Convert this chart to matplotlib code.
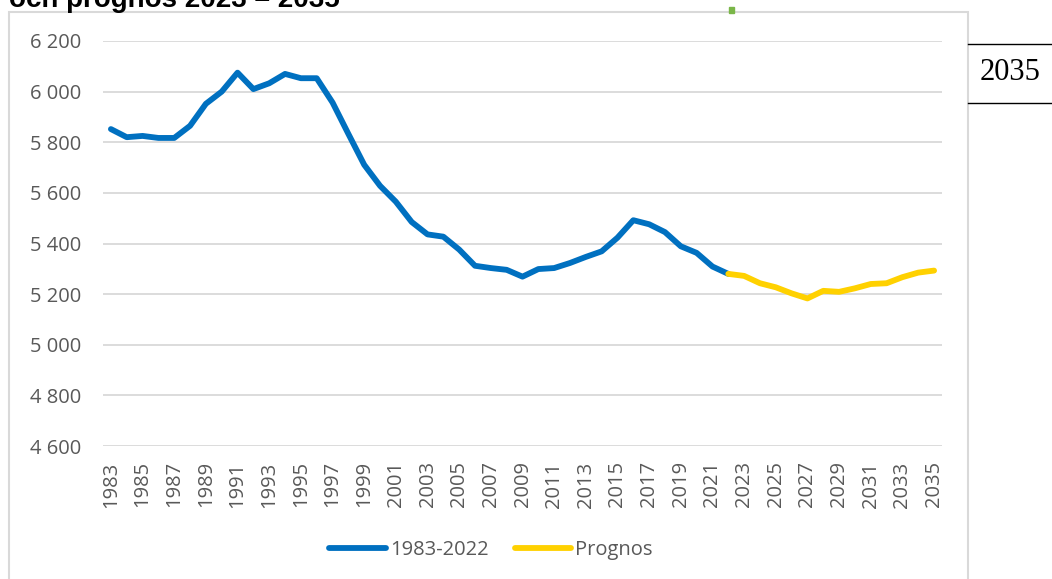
import matplotlib.pyplot as plt
from matplotlib.patches import Rectangle
from matplotlib.lines import Line2D
from matplotlib.ticker import FuncFormatter, MultipleLocator

# data
years = list(range(1983, 2036))
hist_years = list(range(1983, 2023))
historic = [5852, 5820, 5825, 5817, 5817, 5865, 5952, 6000, 6075, 6010,
            6033, 6070, 6053, 6053, 5957, 5833, 5711, 5628, 5565, 5485,
            5436, 5427, 5376, 5312, 5303, 5296, 5269, 5299, 5303, 5323,
            5347, 5369, 5423, 5492, 5476, 5445, 5389, 5363, 5309, 5280]
prog_years = list(range(2022, 2036))
prognos = [5280, 5272, 5243, 5227, 5203, 5183, 5213, 5209, 5223, 5240,
           5243, 5267, 5285, 5293]
tick_years = years[::2]

W, H = 1052, 579
blue = '#0070C0'
yellow = '#FFD100'
grey_txt = '#595959'
grid_c = '#D9D9D9'

plt.rcParams['font.family'] = ['Open Sans', 'DejaVu Sans']

fig = plt.figure(figsize=(W / 100, H / 100), dpi=100)
fig.patch.set_facecolor('white')

# chart border
fig.add_artist(Rectangle((9 / W, -0.05), (968 - 9) / W, 1.05 - 12 / H,
                         transform=fig.transFigure, fill=False,
                         edgecolor=grid_c, linewidth=1.5))

ax = fig.add_axes([103 / W, 1 - 446 / H, (942 - 103) / W, (446 - 41) / H])
ax.plot(hist_years, historic, color=blue, linewidth=4.2,
        solid_capstyle='round', solid_joinstyle='round', label='1983-2022')
ax.plot(prog_years, prognos, color=yellow, linewidth=4.2,
        solid_capstyle='round', solid_joinstyle='round', label='Prognos')

ax.set_xlim(1982.5, 2035.5)
ax.set_ylim(4600, 6200)
ax.yaxis.set_major_locator(MultipleLocator(200))
ax.yaxis.set_major_formatter(FuncFormatter(lambda v, p: f"{int(v):,}".replace(',', ' ')))
ax.set_xticks(tick_years)
ax.set_xticklabels([str(y) for y in tick_years], rotation=90)
ax.grid(axis='y', color=grid_c, linewidth=1.3)
ax.set_axisbelow(True)
for s in ax.spines.values():
    s.set_visible(False)
ax.tick_params(axis='both', length=0, colors=grey_txt, labelsize=14.5)
ax.tick_params(axis='y', pad=16)
ax.tick_params(axis='x', pad=11)

handles = [Line2D([], [], color=blue, linewidth=4.2, solid_capstyle='round'),
           Line2D([], [], color=yellow, linewidth=4.2, solid_capstyle='round')]
fig.legend(handles, ['1983-2022', 'Prognos'], loc='center',
           bbox_to_anchor=(491 / W, 1 - 550 / H), ncol=2, frameon=False,
           fontsize=14.5, labelcolor=grey_txt, handlelength=2.8,
           handletextpad=0.2, columnspacing=1.3)

# cut-off title from the source page
fig.text(9 / W, 1 - 7 / H, 'och prognos 2023 – 2035', fontsize=20,
         fontweight='bold', family='Liberation Sans', va='baseline', ha='left')

# small green mark and table cell at the right
fig.add_artist(Rectangle((729 / W, 1 - 13 / H), 5 / W, 6 / H,
                         transform=fig.transFigure, color='#7AB648'))
fig.add_artist(Line2D([968 / W, 1], [1 - 44 / H, 1 - 44 / H],
                      transform=fig.transFigure, color='black', linewidth=1))
fig.add_artist(Line2D([968 / W, 1], [1 - 103 / H, 1 - 103 / H],
                      transform=fig.transFigure, color='black', linewidth=1))
fig.text(1010 / W, 1 - 73 / H, '2035', fontsize=22, family='Liberation Serif',
         ha='center', va='center', color='black')

fig.savefig('out.png', dpi=100)
